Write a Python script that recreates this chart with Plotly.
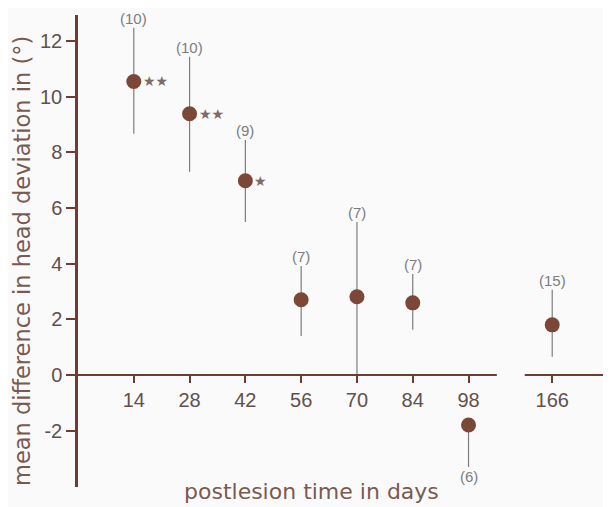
import plotly.graph_objects as go

# ---- data ----
days = [14, 28, 42, 56, 70, 84, 98, 166]
tick_labels = ["14", "28", "42", "56", "70", "84", "98", "166"]
mean_diff = [10.55, 9.39, 6.98, 2.70, 2.81, 2.59, -1.80, 1.80]
err_plus = [1.93, 2.05, 1.47, 1.22, 2.69, 1.04, 0.0, 1.26]
err_minus = [1.88, 2.09, 1.48, 1.30, 2.81, 0.97, 1.51, 1.15]
n_labels = ["(10)", "(10)", "(9)", "(7)", "(7)", "(7)", "(6)", "(15)"]
stars = ["★★", "★★", "★", "", "", "", "", ""]
y_ticks = [-2, 0, 2, 4, 6, 8, 10, 12]
y_tick_labels = ["-2", "0", "2", "4", "6", "8", "10", "12"]

# broken x axis: values after 98 are placed right after a gap
def axis_pos(d):
    return d if d <= 98 else 119

xpos = [axis_pos(d) for d in days]

BROWN = "#6b3e30"
DOT = "#7b4838"
TEXT = "#62504c"
TITLE = "#7a5a50"
GREY = "#7d7d7d"
BG = "#fafafa"

y_min, y_max = -4.03, 12.94
x_min, x_max = 0, 133.5

# page body has an 8px margin: figure sized to fit the window exactly
W, H = 603, 499
ML, MT, MR, MB = 70, 7, 1, 20
PW, PH = W - ML - MR, H - MT - MB

fig = go.Figure()
fig.add_trace(go.Scatter(
    x=xpos, y=mean_diff, mode="markers",
    marker=dict(size=15, color=DOT),
    error_y=dict(type="data", symmetric=False, array=err_plus,
                 arrayminus=err_minus, color=GREY, thickness=1.2, width=0),
    showlegend=False, hoverinfo="skip",
))

annotations = []
for x, m, p, mn, n, s in zip(xpos, mean_diff, err_plus, err_minus, n_labels, stars):
    if m >= 0:
        annotations.append(dict(x=x, y=m + p, text=n, showarrow=False,
                                xanchor="center", yanchor="bottom", yshift=-1,
                                font=dict(size=15, color=GREY, family="Liberation Sans")))
    else:
        annotations.append(dict(x=x, y=m - mn, text=n, showarrow=False,
                                xanchor="center", yanchor="top", yshift=1,
                                font=dict(size=15, color=GREY, family="Liberation Sans")))
    if s:
        annotations.append(dict(x=x, y=m, text=s, showarrow=False,
                                xanchor="left", yanchor="middle", xshift=7,
                                font=dict(size=14, color="#806a64", family="DejaVu Sans")))

# axis titles (positions in screen pixels converted to paper fractions)
annotations.append(dict(xref="paper", yref="paper",
                        x=(311.5 - 8 - ML) / PW, y=-(491 - 8 - (MT + PH)) / PH,
                        text="postlesion time in days", showarrow=False,
                        xanchor="center", yanchor="middle",
                        font=dict(size=22, color=TITLE, family="DejaVu Sans")))
annotations.append(dict(xref="paper", yref="paper",
                        x=(22 - 8 - ML) / PW, y=((MT + PH) - (261 - 8)) / PH,
                        text="mean difference in head deviation in (°)", showarrow=False,
                        textangle=-90, xanchor="center", yanchor="middle",
                        font=dict(size=22.5, color=TITLE, family="DejaVu Sans")))

shapes = [
    dict(type="line", xref="x", yref="y", x0=0, x1=105.1, y0=0, y1=0,
         line=dict(color=BROWN, width=2)),
    dict(type="line", xref="x", yref="y", x0=112.1, x1=x_max, y0=0, y1=0,
         line=dict(color=BROWN, width=2)),
]

fig.update_layout(
    width=W, height=H,
    margin=dict(l=ML, r=MR, t=MT, b=MB, autoexpand=False),
    paper_bgcolor=BG, plot_bgcolor=BG,
    annotations=annotations, shapes=shapes,
    xaxis=dict(range=[x_min, x_max], showgrid=False, zeroline=False, showline=False,
               tickvals=xpos, ticktext=tick_labels, ticks="outside", ticklen=7,
               tickcolor=BROWN, tickwidth=1.5,
               anchor="free", position=(0 - y_min) / (y_max - y_min),
               tickfont=dict(size=20, color=TEXT, family="Liberation Sans")),
    yaxis=dict(range=[y_min, y_max], showgrid=False, zeroline=False,
               showline=True, linecolor=BROWN, linewidth=2.5,
               tickvals=y_ticks, ticktext=y_tick_labels, ticks="outside", ticklen=9,
               tickcolor=BROWN, tickwidth=1.5,
               tickfont=dict(size=20, color=TEXT, family="Liberation Sans")),
)

fig.write_html("out.html")
